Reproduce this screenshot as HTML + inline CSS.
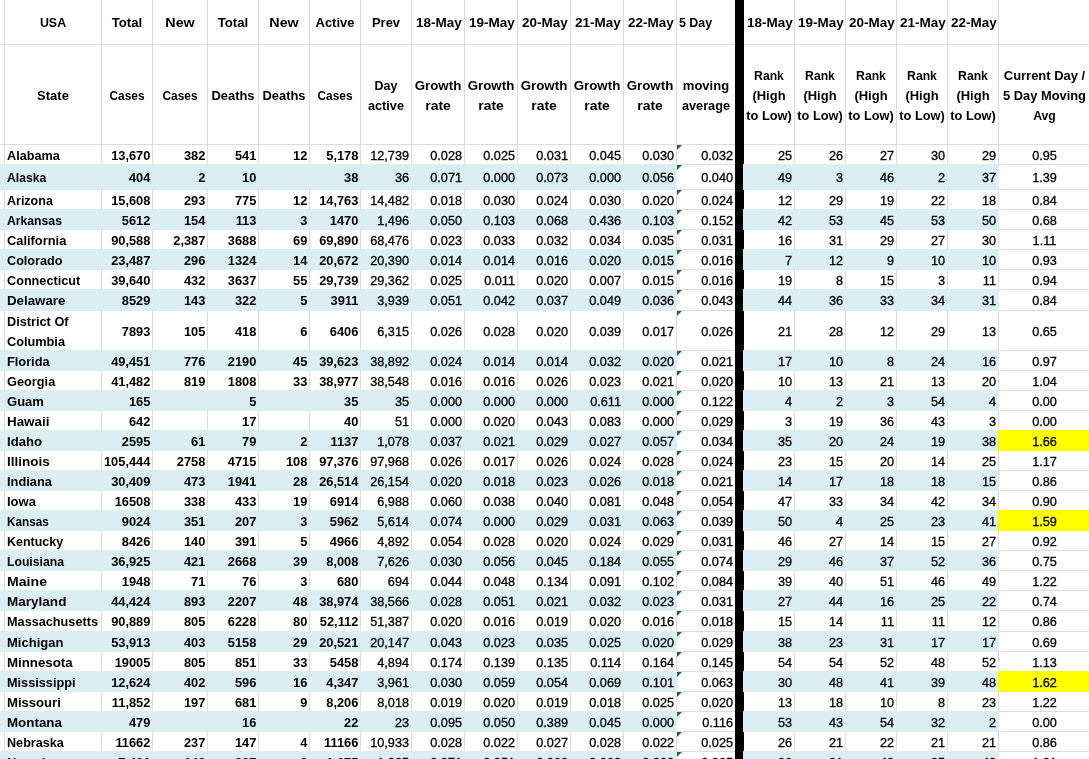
<!DOCTYPE html>
<html lang="en"><head><meta charset="utf-8"><title>USA COVID-19 growth rate by state</title>
<style>
html,body{margin:0;padding:0;background:#fff}
body{width:1089px;height:759px;overflow:hidden;position:relative;font-family:'Liberation Sans',sans-serif;font-size:13.33px;line-height:20px;color:#000}
#s{position:absolute;left:0;top:0;width:1089px;height:759px;overflow:hidden;background:#fff}
#s div{position:absolute;white-space:nowrap;height:20px}
#s .v{top:0;width:1px;height:759px;background:#dcdcdc}
#s .h{left:0;height:1px;width:1089px;background:#dcdcdc}
#s .b{background:#daeef3}
#s .y{background:#ffff00}
#s .k{background:#000}
#s .g{width:0;height:0;border-top:5px solid #187030;border-right:5px solid transparent}
.t{font-weight:bold}
.n{font-size:12.7px;-webkit-text-stroke:0.3px #000}
.r{text-align:right;transform-origin:100% 50%}
.c{text-align:center;transform-origin:50% 50%}
.l{text-align:left;transform-origin:0 50%}
.t.r{transform:scaleX(0.963)}
</style></head><body><div id="s">
<div class="v" style="left:4px"></div>
<div class="v" style="left:101px"></div>
<div class="v" style="left:152px"></div>
<div class="v" style="left:207px"></div>
<div class="v" style="left:258px"></div>
<div class="v" style="left:309px"></div>
<div class="v" style="left:360px"></div>
<div class="v" style="left:411px"></div>
<div class="v" style="left:464px"></div>
<div class="v" style="left:517px"></div>
<div class="v" style="left:570px"></div>
<div class="v" style="left:623px"></div>
<div class="v" style="left:676px"></div>
<div class="v" style="left:794px"></div>
<div class="v" style="left:845px"></div>
<div class="v" style="left:896px"></div>
<div class="v" style="left:947px"></div>
<div class="v" style="left:998px"></div>
<div class="h" style="top:44px"></div>
<div class="h" style="top:144px"></div>
<div class="h" style="top:164px"></div>
<div class="h" style="top:189px"></div>
<div class="h" style="top:209px"></div>
<div class="h" style="top:229px"></div>
<div class="h" style="top:249px"></div>
<div class="h" style="top:269px"></div>
<div class="h" style="top:289px"></div>
<div class="h" style="top:310px"></div>
<div class="h" style="top:350px"></div>
<div class="h" style="top:370px"></div>
<div class="h" style="top:390px"></div>
<div class="h" style="top:410px"></div>
<div class="h" style="top:430px"></div>
<div class="h" style="top:450px"></div>
<div class="h" style="top:470px"></div>
<div class="h" style="top:490px"></div>
<div class="h" style="top:510px"></div>
<div class="h" style="top:530px"></div>
<div class="h" style="top:550px"></div>
<div class="h" style="top:570px"></div>
<div class="h" style="top:590px"></div>
<div class="h" style="top:610px"></div>
<div class="h" style="top:631px"></div>
<div class="h" style="top:651px"></div>
<div class="h" style="top:671px"></div>
<div class="h" style="top:691px"></div>
<div class="h" style="top:711px"></div>
<div class="h" style="top:731px"></div>
<div class="h" style="top:751px"></div>
<div class="k" style="left:735px;top:0;width:9px;height:759px"></div>
<div class="g" style="left:677px;top:145px"></div>
<div class="b" style="left:0;top:164px;width:677px;height:26px"></div>
<div class="b" style="left:743px;top:164px;width:256px;height:26px"></div>
<div class="g" style="left:677px;top:165px"></div>
<div class="g" style="left:677px;top:190px"></div>
<div class="b" style="left:0;top:209px;width:677px;height:21px"></div>
<div class="b" style="left:743px;top:209px;width:256px;height:21px"></div>
<div class="g" style="left:677px;top:210px"></div>
<div class="g" style="left:677px;top:230px"></div>
<div class="b" style="left:0;top:249px;width:677px;height:21px"></div>
<div class="b" style="left:743px;top:249px;width:256px;height:21px"></div>
<div class="g" style="left:677px;top:250px"></div>
<div class="g" style="left:677px;top:270px"></div>
<div class="b" style="left:0;top:289px;width:677px;height:22px"></div>
<div class="b" style="left:743px;top:289px;width:256px;height:22px"></div>
<div class="g" style="left:677px;top:290px"></div>
<div class="g" style="left:677px;top:311px"></div>
<div class="b" style="left:0;top:350px;width:677px;height:21px"></div>
<div class="b" style="left:743px;top:350px;width:256px;height:21px"></div>
<div class="g" style="left:677px;top:351px"></div>
<div class="g" style="left:677px;top:371px"></div>
<div class="b" style="left:0;top:390px;width:677px;height:21px"></div>
<div class="b" style="left:743px;top:390px;width:256px;height:21px"></div>
<div class="g" style="left:677px;top:391px"></div>
<div class="g" style="left:677px;top:411px"></div>
<div class="b" style="left:0;top:430px;width:677px;height:21px"></div>
<div class="b" style="left:743px;top:430px;width:256px;height:21px"></div>
<div class="y" style="left:998px;top:430px;width:91px;height:21px"></div>
<div class="g" style="left:677px;top:431px"></div>
<div class="g" style="left:677px;top:451px"></div>
<div class="b" style="left:0;top:470px;width:677px;height:21px"></div>
<div class="b" style="left:743px;top:470px;width:256px;height:21px"></div>
<div class="g" style="left:677px;top:471px"></div>
<div class="g" style="left:677px;top:491px"></div>
<div class="b" style="left:0;top:510px;width:677px;height:21px"></div>
<div class="b" style="left:743px;top:510px;width:256px;height:21px"></div>
<div class="y" style="left:998px;top:510px;width:91px;height:21px"></div>
<div class="g" style="left:677px;top:511px"></div>
<div class="g" style="left:677px;top:531px"></div>
<div class="b" style="left:0;top:550px;width:677px;height:21px"></div>
<div class="b" style="left:743px;top:550px;width:256px;height:21px"></div>
<div class="g" style="left:677px;top:551px"></div>
<div class="g" style="left:677px;top:571px"></div>
<div class="b" style="left:0;top:590px;width:677px;height:21px"></div>
<div class="b" style="left:743px;top:590px;width:256px;height:21px"></div>
<div class="g" style="left:677px;top:591px"></div>
<div class="g" style="left:677px;top:611px"></div>
<div class="b" style="left:0;top:631px;width:677px;height:21px"></div>
<div class="b" style="left:743px;top:631px;width:256px;height:21px"></div>
<div class="g" style="left:677px;top:632px"></div>
<div class="g" style="left:677px;top:652px"></div>
<div class="b" style="left:0;top:671px;width:677px;height:21px"></div>
<div class="b" style="left:743px;top:671px;width:256px;height:21px"></div>
<div class="y" style="left:998px;top:671px;width:91px;height:21px"></div>
<div class="g" style="left:677px;top:672px"></div>
<div class="g" style="left:677px;top:692px"></div>
<div class="b" style="left:0;top:711px;width:677px;height:21px"></div>
<div class="b" style="left:743px;top:711px;width:256px;height:21px"></div>
<div class="g" style="left:677px;top:712px"></div>
<div class="g" style="left:677px;top:732px"></div>
<div class="b" style="left:0;top:751px;width:677px;height:21px"></div>
<div class="b" style="left:743px;top:751px;width:256px;height:21px"></div>
<div class="g" style="left:677px;top:752px"></div>
<div class="t c" style="left:5px;top:13px;width:96px;transform:scaleX(0.93)">USA</div>
<div class="t c" style="left:102px;top:13px;width:50px;transform:scaleX(0.992)">Total</div>
<div class="t c" style="left:153px;top:13px;width:54px;transform:scaleX(1.072)">New</div>
<div class="t c" style="left:208px;top:13px;width:50px;transform:scaleX(0.992)">Total</div>
<div class="t c" style="left:259px;top:13px;width:50px;transform:scaleX(1.072)">New</div>
<div class="t c" style="left:310px;top:13px;width:50px;transform:scaleX(0.974)">Active</div>
<div class="t c" style="left:361px;top:13px;width:50px;transform:scaleX(0.967)">Prev</div>
<div class="t c" style="left:413px;top:13px;width:52px;transform:scaleX(1.012)">18-May</div>
<div class="t c" style="left:466px;top:13px;width:52px;transform:scaleX(1.012)">19-May</div>
<div class="t c" style="left:519px;top:13px;width:52px;transform:scaleX(1.012)">20-May</div>
<div class="t c" style="left:572px;top:13px;width:52px;transform:scaleX(1.012)">21-May</div>
<div class="t c" style="left:625px;top:13px;width:52px;transform:scaleX(1.012)">22-May</div>
<div class="t l" style="left:679.3px;top:13px;width:55.7px;transform:scaleX(0.933)">5 Day</div>
<div class="t c" style="left:744.5px;top:13px;width:50px;transform:scaleX(1.012)">18-May</div>
<div class="t c" style="left:795.5px;top:13px;width:50px;transform:scaleX(1.012)">19-May</div>
<div class="t c" style="left:846.5px;top:13px;width:50px;transform:scaleX(1.012)">20-May</div>
<div class="t c" style="left:897.5px;top:13px;width:50px;transform:scaleX(1.012)">21-May</div>
<div class="t c" style="left:948.5px;top:13px;width:50px;transform:scaleX(1.012)">22-May</div>
<div class="t c" style="left:5px;top:85.5px;width:96px;transform:scaleX(0.975)">State</div>
<div class="t c" style="left:102px;top:85.5px;width:50px;transform:scaleX(0.894)">Cases</div>
<div class="t c" style="left:153px;top:85.5px;width:54px;transform:scaleX(0.894)">Cases</div>
<div class="t c" style="left:208px;top:85.5px;width:50px;transform:scaleX(0.969)">Deaths</div>
<div class="t c" style="left:259px;top:85.5px;width:50px;transform:scaleX(0.969)">Deaths</div>
<div class="t c" style="left:310px;top:85.5px;width:50px;transform:scaleX(0.894)">Cases</div>
<div class="t c" style="left:361px;top:75.5px;width:50px;transform:scaleX(0.934)">Day</div>
<div class="t c" style="left:361px;top:95.5px;width:50px;transform:scaleX(0.953)">active</div>
<div class="t c" style="left:412px;top:75.5px;width:52px;transform:scaleX(0.998)">Growth</div>
<div class="t c" style="left:412px;top:95.5px;width:52px;transform:scaleX(1.045)">rate</div>
<div class="t c" style="left:465px;top:75.5px;width:52px;transform:scaleX(0.998)">Growth</div>
<div class="t c" style="left:465px;top:95.5px;width:52px;transform:scaleX(1.045)">rate</div>
<div class="t c" style="left:518px;top:75.5px;width:52px;transform:scaleX(0.998)">Growth</div>
<div class="t c" style="left:518px;top:95.5px;width:52px;transform:scaleX(1.045)">rate</div>
<div class="t c" style="left:571px;top:75.5px;width:52px;transform:scaleX(0.998)">Growth</div>
<div class="t c" style="left:571px;top:95.5px;width:52px;transform:scaleX(1.045)">rate</div>
<div class="t c" style="left:624px;top:75.5px;width:52px;transform:scaleX(0.998)">Growth</div>
<div class="t c" style="left:624px;top:95.5px;width:52px;transform:scaleX(1.045)">rate</div>
<div class="t c" style="left:677px;top:75.5px;width:58px;transform:scaleX(0.978)">moving</div>
<div class="t c" style="left:677px;top:95.5px;width:58px;transform:scaleX(0.955)">average</div>
<div class="t c" style="left:744px;top:65.5px;width:50px;transform:scaleX(0.914)">Rank</div>
<div class="t c" style="left:744px;top:85.5px;width:50px;transform:scaleX(0.972)">(High</div>
<div class="t c" style="left:744px;top:105.5px;width:50px;transform:scaleX(0.962)">to Low)</div>
<div class="t c" style="left:795px;top:65.5px;width:50px;transform:scaleX(0.914)">Rank</div>
<div class="t c" style="left:795px;top:85.5px;width:50px;transform:scaleX(0.972)">(High</div>
<div class="t c" style="left:795px;top:105.5px;width:50px;transform:scaleX(0.962)">to Low)</div>
<div class="t c" style="left:846px;top:65.5px;width:50px;transform:scaleX(0.914)">Rank</div>
<div class="t c" style="left:846px;top:85.5px;width:50px;transform:scaleX(0.972)">(High</div>
<div class="t c" style="left:846px;top:105.5px;width:50px;transform:scaleX(0.962)">to Low)</div>
<div class="t c" style="left:897px;top:65.5px;width:50px;transform:scaleX(0.914)">Rank</div>
<div class="t c" style="left:897px;top:85.5px;width:50px;transform:scaleX(0.972)">(High</div>
<div class="t c" style="left:897px;top:105.5px;width:50px;transform:scaleX(0.962)">to Low)</div>
<div class="t c" style="left:948px;top:65.5px;width:50px;transform:scaleX(0.914)">Rank</div>
<div class="t c" style="left:948px;top:85.5px;width:50px;transform:scaleX(0.972)">(High</div>
<div class="t c" style="left:948px;top:105.5px;width:50px;transform:scaleX(0.962)">to Low)</div>
<div class="t c" style="left:999px;top:65.5px;width:91px;transform:scaleX(0.973)">Current Day /</div>
<div class="t c" style="left:999px;top:85.5px;width:91px;transform:scaleX(0.965)">5 Day Moving</div>
<div class="t c" style="left:999px;top:105.5px;width:91px;transform:scaleX(0.915)">Avg</div>
<div class="t l" style="left:7.2px;top:145.5px;width:93.8px;transform:scaleX(0.95)">Alabama</div>
<div class="t r" style="left:102px;top:145.5px;width:48.4px">13,670</div>
<div class="t r" style="left:153px;top:145.5px;width:52.4px">382</div>
<div class="t r" style="left:208px;top:145.5px;width:48.4px">541</div>
<div class="t r" style="left:259px;top:145.5px;width:48.4px">12</div>
<div class="t r" style="left:310px;top:145.5px;width:48.4px">5,178</div>
<div class="n r" style="left:361px;top:145.5px;width:48px">12,739</div>
<div class="n r" style="left:412px;top:145.5px;width:50px">0.028</div>
<div class="n r" style="left:465px;top:145.5px;width:50px">0.025</div>
<div class="n r" style="left:518px;top:145.5px;width:50px">0.031</div>
<div class="n r" style="left:571px;top:145.5px;width:50px">0.045</div>
<div class="n r" style="left:624px;top:145.5px;width:50px">0.030</div>
<div class="n r" style="left:677px;top:145.5px;width:56px">0.032</div>
<div class="n r" style="left:744px;top:145.5px;width:48px">25</div>
<div class="n r" style="left:795px;top:145.5px;width:48px">26</div>
<div class="n r" style="left:846px;top:145.5px;width:48px">27</div>
<div class="n r" style="left:897px;top:145.5px;width:48px">30</div>
<div class="n r" style="left:948px;top:145.5px;width:48px">29</div>
<div class="n c" style="left:999px;top:145.5px;width:91px">0.95</div>
<div class="t l" style="left:7.2px;top:168px;width:93.8px;transform:scaleX(0.912)">Alaska</div>
<div class="t r" style="left:102px;top:168px;width:48.4px">404</div>
<div class="t r" style="left:153px;top:168px;width:52.4px">2</div>
<div class="t r" style="left:208px;top:168px;width:48.4px">10</div>
<div class="t r" style="left:310px;top:168px;width:48.4px">38</div>
<div class="n r" style="left:361px;top:168px;width:48px">36</div>
<div class="n r" style="left:412px;top:168px;width:50px">0.071</div>
<div class="n r" style="left:465px;top:168px;width:50px">0.000</div>
<div class="n r" style="left:518px;top:168px;width:50px">0.073</div>
<div class="n r" style="left:571px;top:168px;width:50px">0.000</div>
<div class="n r" style="left:624px;top:168px;width:50px">0.056</div>
<div class="n r" style="left:677px;top:168px;width:56px">0.040</div>
<div class="n r" style="left:744px;top:168px;width:48px">49</div>
<div class="n r" style="left:795px;top:168px;width:48px">3</div>
<div class="n r" style="left:846px;top:168px;width:48px">46</div>
<div class="n r" style="left:897px;top:168px;width:48px">2</div>
<div class="n r" style="left:948px;top:168px;width:48px">37</div>
<div class="n c" style="left:999px;top:168px;width:91px">1.39</div>
<div class="t l" style="left:7.2px;top:190.5px;width:93.8px;transform:scaleX(0.938)">Arizona</div>
<div class="t r" style="left:102px;top:190.5px;width:48.4px">15,608</div>
<div class="t r" style="left:153px;top:190.5px;width:52.4px">293</div>
<div class="t r" style="left:208px;top:190.5px;width:48.4px">775</div>
<div class="t r" style="left:259px;top:190.5px;width:48.4px">12</div>
<div class="t r" style="left:310px;top:190.5px;width:48.4px">14,763</div>
<div class="n r" style="left:361px;top:190.5px;width:48px">14,482</div>
<div class="n r" style="left:412px;top:190.5px;width:50px">0.018</div>
<div class="n r" style="left:465px;top:190.5px;width:50px">0.030</div>
<div class="n r" style="left:518px;top:190.5px;width:50px">0.024</div>
<div class="n r" style="left:571px;top:190.5px;width:50px">0.030</div>
<div class="n r" style="left:624px;top:190.5px;width:50px">0.020</div>
<div class="n r" style="left:677px;top:190.5px;width:56px">0.024</div>
<div class="n r" style="left:744px;top:190.5px;width:48px">12</div>
<div class="n r" style="left:795px;top:190.5px;width:48px">29</div>
<div class="n r" style="left:846px;top:190.5px;width:48px">19</div>
<div class="n r" style="left:897px;top:190.5px;width:48px">22</div>
<div class="n r" style="left:948px;top:190.5px;width:48px">18</div>
<div class="n c" style="left:999px;top:190.5px;width:91px">0.84</div>
<div class="t l" style="left:7.2px;top:210.5px;width:93.8px;transform:scaleX(0.915)">Arkansas</div>
<div class="t r" style="left:102px;top:210.5px;width:48.4px">5612</div>
<div class="t r" style="left:153px;top:210.5px;width:52.4px">154</div>
<div class="t r" style="left:208px;top:210.5px;width:48.4px">113</div>
<div class="t r" style="left:259px;top:210.5px;width:48.4px">3</div>
<div class="t r" style="left:310px;top:210.5px;width:48.4px">1470</div>
<div class="n r" style="left:361px;top:210.5px;width:48px">1,496</div>
<div class="n r" style="left:412px;top:210.5px;width:50px">0.050</div>
<div class="n r" style="left:465px;top:210.5px;width:50px">0.103</div>
<div class="n r" style="left:518px;top:210.5px;width:50px">0.068</div>
<div class="n r" style="left:571px;top:210.5px;width:50px">0.436</div>
<div class="n r" style="left:624px;top:210.5px;width:50px">0.103</div>
<div class="n r" style="left:677px;top:210.5px;width:56px">0.152</div>
<div class="n r" style="left:744px;top:210.5px;width:48px">42</div>
<div class="n r" style="left:795px;top:210.5px;width:48px">53</div>
<div class="n r" style="left:846px;top:210.5px;width:48px">45</div>
<div class="n r" style="left:897px;top:210.5px;width:48px">53</div>
<div class="n r" style="left:948px;top:210.5px;width:48px">50</div>
<div class="n c" style="left:999px;top:210.5px;width:91px">0.68</div>
<div class="t l" style="left:7.2px;top:230.5px;width:93.8px;transform:scaleX(0.965)">California</div>
<div class="t r" style="left:102px;top:230.5px;width:48.4px">90,588</div>
<div class="t r" style="left:153px;top:230.5px;width:52.4px">2,387</div>
<div class="t r" style="left:208px;top:230.5px;width:48.4px">3688</div>
<div class="t r" style="left:259px;top:230.5px;width:48.4px">69</div>
<div class="t r" style="left:310px;top:230.5px;width:48.4px">69,890</div>
<div class="n r" style="left:361px;top:230.5px;width:48px">68,476</div>
<div class="n r" style="left:412px;top:230.5px;width:50px">0.023</div>
<div class="n r" style="left:465px;top:230.5px;width:50px">0.033</div>
<div class="n r" style="left:518px;top:230.5px;width:50px">0.032</div>
<div class="n r" style="left:571px;top:230.5px;width:50px">0.034</div>
<div class="n r" style="left:624px;top:230.5px;width:50px">0.035</div>
<div class="n r" style="left:677px;top:230.5px;width:56px">0.031</div>
<div class="n r" style="left:744px;top:230.5px;width:48px">16</div>
<div class="n r" style="left:795px;top:230.5px;width:48px">31</div>
<div class="n r" style="left:846px;top:230.5px;width:48px">29</div>
<div class="n r" style="left:897px;top:230.5px;width:48px">27</div>
<div class="n r" style="left:948px;top:230.5px;width:48px">30</div>
<div class="n c" style="left:999px;top:230.5px;width:91px">1.11</div>
<div class="t l" style="left:7.2px;top:250.5px;width:93.8px;transform:scaleX(0.949)">Colorado</div>
<div class="t r" style="left:102px;top:250.5px;width:48.4px">23,487</div>
<div class="t r" style="left:153px;top:250.5px;width:52.4px">296</div>
<div class="t r" style="left:208px;top:250.5px;width:48.4px">1324</div>
<div class="t r" style="left:259px;top:250.5px;width:48.4px">14</div>
<div class="t r" style="left:310px;top:250.5px;width:48.4px">20,672</div>
<div class="n r" style="left:361px;top:250.5px;width:48px">20,390</div>
<div class="n r" style="left:412px;top:250.5px;width:50px">0.014</div>
<div class="n r" style="left:465px;top:250.5px;width:50px">0.014</div>
<div class="n r" style="left:518px;top:250.5px;width:50px">0.016</div>
<div class="n r" style="left:571px;top:250.5px;width:50px">0.020</div>
<div class="n r" style="left:624px;top:250.5px;width:50px">0.015</div>
<div class="n r" style="left:677px;top:250.5px;width:56px">0.016</div>
<div class="n r" style="left:744px;top:250.5px;width:48px">7</div>
<div class="n r" style="left:795px;top:250.5px;width:48px">12</div>
<div class="n r" style="left:846px;top:250.5px;width:48px">9</div>
<div class="n r" style="left:897px;top:250.5px;width:48px">10</div>
<div class="n r" style="left:948px;top:250.5px;width:48px">10</div>
<div class="n c" style="left:999px;top:250.5px;width:91px">0.93</div>
<div class="t l" style="left:7.2px;top:270.5px;width:93.8px;transform:scaleX(0.95)">Connecticut</div>
<div class="t r" style="left:102px;top:270.5px;width:48.4px">39,640</div>
<div class="t r" style="left:153px;top:270.5px;width:52.4px">432</div>
<div class="t r" style="left:208px;top:270.5px;width:48.4px">3637</div>
<div class="t r" style="left:259px;top:270.5px;width:48.4px">55</div>
<div class="t r" style="left:310px;top:270.5px;width:48.4px">29,739</div>
<div class="n r" style="left:361px;top:270.5px;width:48px">29,362</div>
<div class="n r" style="left:412px;top:270.5px;width:50px">0.025</div>
<div class="n r" style="left:465px;top:270.5px;width:50px">0.011</div>
<div class="n r" style="left:518px;top:270.5px;width:50px">0.020</div>
<div class="n r" style="left:571px;top:270.5px;width:50px">0.007</div>
<div class="n r" style="left:624px;top:270.5px;width:50px">0.015</div>
<div class="n r" style="left:677px;top:270.5px;width:56px">0.016</div>
<div class="n r" style="left:744px;top:270.5px;width:48px">19</div>
<div class="n r" style="left:795px;top:270.5px;width:48px">8</div>
<div class="n r" style="left:846px;top:270.5px;width:48px">15</div>
<div class="n r" style="left:897px;top:270.5px;width:48px">3</div>
<div class="n r" style="left:948px;top:270.5px;width:48px">11</div>
<div class="n c" style="left:999px;top:270.5px;width:91px">0.94</div>
<div class="t l" style="left:7.2px;top:291px;width:93.8px;transform:scaleX(0.997)">Delaware</div>
<div class="t r" style="left:102px;top:291px;width:48.4px">8529</div>
<div class="t r" style="left:153px;top:291px;width:52.4px">143</div>
<div class="t r" style="left:208px;top:291px;width:48.4px">322</div>
<div class="t r" style="left:259px;top:291px;width:48.4px">5</div>
<div class="t r" style="left:310px;top:291px;width:48.4px">3911</div>
<div class="n r" style="left:361px;top:291px;width:48px">3,939</div>
<div class="n r" style="left:412px;top:291px;width:50px">0.051</div>
<div class="n r" style="left:465px;top:291px;width:50px">0.042</div>
<div class="n r" style="left:518px;top:291px;width:50px">0.037</div>
<div class="n r" style="left:571px;top:291px;width:50px">0.049</div>
<div class="n r" style="left:624px;top:291px;width:50px">0.036</div>
<div class="n r" style="left:677px;top:291px;width:56px">0.043</div>
<div class="n r" style="left:744px;top:291px;width:48px">44</div>
<div class="n r" style="left:795px;top:291px;width:48px">36</div>
<div class="n r" style="left:846px;top:291px;width:48px">33</div>
<div class="n r" style="left:897px;top:291px;width:48px">34</div>
<div class="n r" style="left:948px;top:291px;width:48px">31</div>
<div class="n c" style="left:999px;top:291px;width:91px">0.84</div>
<div class="t l" style="left:7.2px;top:311.5px;width:93.8px;transform:scaleX(0.955)">District Of</div>
<div class="t l" style="left:7.2px;top:331.5px;width:93.8px;transform:scaleX(0.955)">Columbia</div>
<div class="t r" style="left:102px;top:321.5px;width:48.4px">7893</div>
<div class="t r" style="left:153px;top:321.5px;width:52.4px">105</div>
<div class="t r" style="left:208px;top:321.5px;width:48.4px">418</div>
<div class="t r" style="left:259px;top:321.5px;width:48.4px">6</div>
<div class="t r" style="left:310px;top:321.5px;width:48.4px">6406</div>
<div class="n r" style="left:361px;top:321.5px;width:48px">6,315</div>
<div class="n r" style="left:412px;top:321.5px;width:50px">0.026</div>
<div class="n r" style="left:465px;top:321.5px;width:50px">0.028</div>
<div class="n r" style="left:518px;top:321.5px;width:50px">0.020</div>
<div class="n r" style="left:571px;top:321.5px;width:50px">0.039</div>
<div class="n r" style="left:624px;top:321.5px;width:50px">0.017</div>
<div class="n r" style="left:677px;top:321.5px;width:56px">0.026</div>
<div class="n r" style="left:744px;top:321.5px;width:48px">21</div>
<div class="n r" style="left:795px;top:321.5px;width:48px">28</div>
<div class="n r" style="left:846px;top:321.5px;width:48px">12</div>
<div class="n r" style="left:897px;top:321.5px;width:48px">29</div>
<div class="n r" style="left:948px;top:321.5px;width:48px">13</div>
<div class="n c" style="left:999px;top:321.5px;width:91px">0.65</div>
<div class="t l" style="left:7.2px;top:351.5px;width:93.8px;transform:scaleX(0.957)">Florida</div>
<div class="t r" style="left:102px;top:351.5px;width:48.4px">49,451</div>
<div class="t r" style="left:153px;top:351.5px;width:52.4px">776</div>
<div class="t r" style="left:208px;top:351.5px;width:48.4px">2190</div>
<div class="t r" style="left:259px;top:351.5px;width:48.4px">45</div>
<div class="t r" style="left:310px;top:351.5px;width:48.4px">39,623</div>
<div class="n r" style="left:361px;top:351.5px;width:48px">38,892</div>
<div class="n r" style="left:412px;top:351.5px;width:50px">0.024</div>
<div class="n r" style="left:465px;top:351.5px;width:50px">0.014</div>
<div class="n r" style="left:518px;top:351.5px;width:50px">0.014</div>
<div class="n r" style="left:571px;top:351.5px;width:50px">0.032</div>
<div class="n r" style="left:624px;top:351.5px;width:50px">0.020</div>
<div class="n r" style="left:677px;top:351.5px;width:56px">0.021</div>
<div class="n r" style="left:744px;top:351.5px;width:48px">17</div>
<div class="n r" style="left:795px;top:351.5px;width:48px">10</div>
<div class="n r" style="left:846px;top:351.5px;width:48px">8</div>
<div class="n r" style="left:897px;top:351.5px;width:48px">24</div>
<div class="n r" style="left:948px;top:351.5px;width:48px">16</div>
<div class="n c" style="left:999px;top:351.5px;width:91px">0.97</div>
<div class="t l" style="left:7.2px;top:371.5px;width:93.8px;transform:scaleX(0.958)">Georgia</div>
<div class="t r" style="left:102px;top:371.5px;width:48.4px">41,482</div>
<div class="t r" style="left:153px;top:371.5px;width:52.4px">819</div>
<div class="t r" style="left:208px;top:371.5px;width:48.4px">1808</div>
<div class="t r" style="left:259px;top:371.5px;width:48.4px">33</div>
<div class="t r" style="left:310px;top:371.5px;width:48.4px">38,977</div>
<div class="n r" style="left:361px;top:371.5px;width:48px">38,548</div>
<div class="n r" style="left:412px;top:371.5px;width:50px">0.016</div>
<div class="n r" style="left:465px;top:371.5px;width:50px">0.016</div>
<div class="n r" style="left:518px;top:371.5px;width:50px">0.026</div>
<div class="n r" style="left:571px;top:371.5px;width:50px">0.023</div>
<div class="n r" style="left:624px;top:371.5px;width:50px">0.021</div>
<div class="n r" style="left:677px;top:371.5px;width:56px">0.020</div>
<div class="n r" style="left:744px;top:371.5px;width:48px">10</div>
<div class="n r" style="left:795px;top:371.5px;width:48px">13</div>
<div class="n r" style="left:846px;top:371.5px;width:48px">21</div>
<div class="n r" style="left:897px;top:371.5px;width:48px">13</div>
<div class="n r" style="left:948px;top:371.5px;width:48px">20</div>
<div class="n c" style="left:999px;top:371.5px;width:91px">1.04</div>
<div class="t l" style="left:7.2px;top:391.5px;width:93.8px;transform:scaleX(0.977)">Guam</div>
<div class="t r" style="left:102px;top:391.5px;width:48.4px">165</div>
<div class="t r" style="left:208px;top:391.5px;width:48.4px">5</div>
<div class="t r" style="left:310px;top:391.5px;width:48.4px">35</div>
<div class="n r" style="left:361px;top:391.5px;width:48px">35</div>
<div class="n r" style="left:412px;top:391.5px;width:50px">0.000</div>
<div class="n r" style="left:465px;top:391.5px;width:50px">0.000</div>
<div class="n r" style="left:518px;top:391.5px;width:50px">0.000</div>
<div class="n r" style="left:571px;top:391.5px;width:50px">0.611</div>
<div class="n r" style="left:624px;top:391.5px;width:50px">0.000</div>
<div class="n r" style="left:677px;top:391.5px;width:56px">0.122</div>
<div class="n r" style="left:744px;top:391.5px;width:48px">4</div>
<div class="n r" style="left:795px;top:391.5px;width:48px">2</div>
<div class="n r" style="left:846px;top:391.5px;width:48px">3</div>
<div class="n r" style="left:897px;top:391.5px;width:48px">54</div>
<div class="n r" style="left:948px;top:391.5px;width:48px">4</div>
<div class="n c" style="left:999px;top:391.5px;width:91px">0.00</div>
<div class="t l" style="left:7.2px;top:411.5px;width:93.8px;transform:scaleX(1.005)">Hawaii</div>
<div class="t r" style="left:102px;top:411.5px;width:48.4px">642</div>
<div class="t r" style="left:208px;top:411.5px;width:48.4px">17</div>
<div class="t r" style="left:310px;top:411.5px;width:48.4px">40</div>
<div class="n r" style="left:361px;top:411.5px;width:48px">51</div>
<div class="n r" style="left:412px;top:411.5px;width:50px">0.000</div>
<div class="n r" style="left:465px;top:411.5px;width:50px">0.020</div>
<div class="n r" style="left:518px;top:411.5px;width:50px">0.043</div>
<div class="n r" style="left:571px;top:411.5px;width:50px">0.083</div>
<div class="n r" style="left:624px;top:411.5px;width:50px">0.000</div>
<div class="n r" style="left:677px;top:411.5px;width:56px">0.029</div>
<div class="n r" style="left:744px;top:411.5px;width:48px">3</div>
<div class="n r" style="left:795px;top:411.5px;width:48px">19</div>
<div class="n r" style="left:846px;top:411.5px;width:48px">36</div>
<div class="n r" style="left:897px;top:411.5px;width:48px">43</div>
<div class="n r" style="left:948px;top:411.5px;width:48px">3</div>
<div class="n c" style="left:999px;top:411.5px;width:91px">0.00</div>
<div class="t l" style="left:7.2px;top:431.5px;width:93.8px;transform:scaleX(0.982)">Idaho</div>
<div class="t r" style="left:102px;top:431.5px;width:48.4px">2595</div>
<div class="t r" style="left:153px;top:431.5px;width:52.4px">61</div>
<div class="t r" style="left:208px;top:431.5px;width:48.4px">79</div>
<div class="t r" style="left:259px;top:431.5px;width:48.4px">2</div>
<div class="t r" style="left:310px;top:431.5px;width:48.4px">1137</div>
<div class="n r" style="left:361px;top:431.5px;width:48px">1,078</div>
<div class="n r" style="left:412px;top:431.5px;width:50px">0.037</div>
<div class="n r" style="left:465px;top:431.5px;width:50px">0.021</div>
<div class="n r" style="left:518px;top:431.5px;width:50px">0.029</div>
<div class="n r" style="left:571px;top:431.5px;width:50px">0.027</div>
<div class="n r" style="left:624px;top:431.5px;width:50px">0.057</div>
<div class="n r" style="left:677px;top:431.5px;width:56px">0.034</div>
<div class="n r" style="left:744px;top:431.5px;width:48px">35</div>
<div class="n r" style="left:795px;top:431.5px;width:48px">20</div>
<div class="n r" style="left:846px;top:431.5px;width:48px">24</div>
<div class="n r" style="left:897px;top:431.5px;width:48px">19</div>
<div class="n r" style="left:948px;top:431.5px;width:48px">38</div>
<div class="n c" style="left:999px;top:431.5px;width:91px">1.66</div>
<div class="t l" style="left:7.2px;top:451.5px;width:93.8px;transform:scaleX(1.013)">Illinois</div>
<div class="t r" style="left:102px;top:451.5px;width:48.4px">105,444</div>
<div class="t r" style="left:153px;top:451.5px;width:52.4px">2758</div>
<div class="t r" style="left:208px;top:451.5px;width:48.4px">4715</div>
<div class="t r" style="left:259px;top:451.5px;width:48.4px">108</div>
<div class="t r" style="left:310px;top:451.5px;width:48.4px">97,376</div>
<div class="n r" style="left:361px;top:451.5px;width:48px">97,968</div>
<div class="n r" style="left:412px;top:451.5px;width:50px">0.026</div>
<div class="n r" style="left:465px;top:451.5px;width:50px">0.017</div>
<div class="n r" style="left:518px;top:451.5px;width:50px">0.026</div>
<div class="n r" style="left:571px;top:451.5px;width:50px">0.024</div>
<div class="n r" style="left:624px;top:451.5px;width:50px">0.028</div>
<div class="n r" style="left:677px;top:451.5px;width:56px">0.024</div>
<div class="n r" style="left:744px;top:451.5px;width:48px">23</div>
<div class="n r" style="left:795px;top:451.5px;width:48px">15</div>
<div class="n r" style="left:846px;top:451.5px;width:48px">20</div>
<div class="n r" style="left:897px;top:451.5px;width:48px">14</div>
<div class="n r" style="left:948px;top:451.5px;width:48px">25</div>
<div class="n c" style="left:999px;top:451.5px;width:91px">1.17</div>
<div class="t l" style="left:7.2px;top:471.5px;width:93.8px;transform:scaleX(0.963)">Indiana</div>
<div class="t r" style="left:102px;top:471.5px;width:48.4px">30,409</div>
<div class="t r" style="left:153px;top:471.5px;width:52.4px">473</div>
<div class="t r" style="left:208px;top:471.5px;width:48.4px">1941</div>
<div class="t r" style="left:259px;top:471.5px;width:48.4px">28</div>
<div class="t r" style="left:310px;top:471.5px;width:48.4px">26,514</div>
<div class="n r" style="left:361px;top:471.5px;width:48px">26,154</div>
<div class="n r" style="left:412px;top:471.5px;width:50px">0.020</div>
<div class="n r" style="left:465px;top:471.5px;width:50px">0.018</div>
<div class="n r" style="left:518px;top:471.5px;width:50px">0.023</div>
<div class="n r" style="left:571px;top:471.5px;width:50px">0.026</div>
<div class="n r" style="left:624px;top:471.5px;width:50px">0.018</div>
<div class="n r" style="left:677px;top:471.5px;width:56px">0.021</div>
<div class="n r" style="left:744px;top:471.5px;width:48px">14</div>
<div class="n r" style="left:795px;top:471.5px;width:48px">17</div>
<div class="n r" style="left:846px;top:471.5px;width:48px">18</div>
<div class="n r" style="left:897px;top:471.5px;width:48px">18</div>
<div class="n r" style="left:948px;top:471.5px;width:48px">15</div>
<div class="n c" style="left:999px;top:471.5px;width:91px">0.86</div>
<div class="t l" style="left:7.2px;top:491.5px;width:93.8px;transform:scaleX(0.978)">Iowa</div>
<div class="t r" style="left:102px;top:491.5px;width:48.4px">16508</div>
<div class="t r" style="left:153px;top:491.5px;width:52.4px">338</div>
<div class="t r" style="left:208px;top:491.5px;width:48.4px">433</div>
<div class="t r" style="left:259px;top:491.5px;width:48.4px">19</div>
<div class="t r" style="left:310px;top:491.5px;width:48.4px">6914</div>
<div class="n r" style="left:361px;top:491.5px;width:48px">6,988</div>
<div class="n r" style="left:412px;top:491.5px;width:50px">0.060</div>
<div class="n r" style="left:465px;top:491.5px;width:50px">0.038</div>
<div class="n r" style="left:518px;top:491.5px;width:50px">0.040</div>
<div class="n r" style="left:571px;top:491.5px;width:50px">0.081</div>
<div class="n r" style="left:624px;top:491.5px;width:50px">0.048</div>
<div class="n r" style="left:677px;top:491.5px;width:56px">0.054</div>
<div class="n r" style="left:744px;top:491.5px;width:48px">47</div>
<div class="n r" style="left:795px;top:491.5px;width:48px">33</div>
<div class="n r" style="left:846px;top:491.5px;width:48px">34</div>
<div class="n r" style="left:897px;top:491.5px;width:48px">42</div>
<div class="n r" style="left:948px;top:491.5px;width:48px">34</div>
<div class="n c" style="left:999px;top:491.5px;width:91px">0.90</div>
<div class="t l" style="left:7.2px;top:511.5px;width:93.8px;transform:scaleX(0.88)">Kansas</div>
<div class="t r" style="left:102px;top:511.5px;width:48.4px">9024</div>
<div class="t r" style="left:153px;top:511.5px;width:52.4px">351</div>
<div class="t r" style="left:208px;top:511.5px;width:48.4px">207</div>
<div class="t r" style="left:259px;top:511.5px;width:48.4px">3</div>
<div class="t r" style="left:310px;top:511.5px;width:48.4px">5962</div>
<div class="n r" style="left:361px;top:511.5px;width:48px">5,614</div>
<div class="n r" style="left:412px;top:511.5px;width:50px">0.074</div>
<div class="n r" style="left:465px;top:511.5px;width:50px">0.000</div>
<div class="n r" style="left:518px;top:511.5px;width:50px">0.029</div>
<div class="n r" style="left:571px;top:511.5px;width:50px">0.031</div>
<div class="n r" style="left:624px;top:511.5px;width:50px">0.063</div>
<div class="n r" style="left:677px;top:511.5px;width:56px">0.039</div>
<div class="n r" style="left:744px;top:511.5px;width:48px">50</div>
<div class="n r" style="left:795px;top:511.5px;width:48px">4</div>
<div class="n r" style="left:846px;top:511.5px;width:48px">25</div>
<div class="n r" style="left:897px;top:511.5px;width:48px">23</div>
<div class="n r" style="left:948px;top:511.5px;width:48px">41</div>
<div class="n c" style="left:999px;top:511.5px;width:91px">1.59</div>
<div class="t l" style="left:7.2px;top:531.5px;width:93.8px;transform:scaleX(0.935)">Kentucky</div>
<div class="t r" style="left:102px;top:531.5px;width:48.4px">8426</div>
<div class="t r" style="left:153px;top:531.5px;width:52.4px">140</div>
<div class="t r" style="left:208px;top:531.5px;width:48.4px">391</div>
<div class="t r" style="left:259px;top:531.5px;width:48.4px">5</div>
<div class="t r" style="left:310px;top:531.5px;width:48.4px">4966</div>
<div class="n r" style="left:361px;top:531.5px;width:48px">4,892</div>
<div class="n r" style="left:412px;top:531.5px;width:50px">0.054</div>
<div class="n r" style="left:465px;top:531.5px;width:50px">0.028</div>
<div class="n r" style="left:518px;top:531.5px;width:50px">0.020</div>
<div class="n r" style="left:571px;top:531.5px;width:50px">0.024</div>
<div class="n r" style="left:624px;top:531.5px;width:50px">0.029</div>
<div class="n r" style="left:677px;top:531.5px;width:56px">0.031</div>
<div class="n r" style="left:744px;top:531.5px;width:48px">46</div>
<div class="n r" style="left:795px;top:531.5px;width:48px">27</div>
<div class="n r" style="left:846px;top:531.5px;width:48px">14</div>
<div class="n r" style="left:897px;top:531.5px;width:48px">15</div>
<div class="n r" style="left:948px;top:531.5px;width:48px">27</div>
<div class="n c" style="left:999px;top:531.5px;width:91px">0.92</div>
<div class="t l" style="left:7.2px;top:551.5px;width:93.8px;transform:scaleX(0.916)">Louisiana</div>
<div class="t r" style="left:102px;top:551.5px;width:48.4px">36,925</div>
<div class="t r" style="left:153px;top:551.5px;width:52.4px">421</div>
<div class="t r" style="left:208px;top:551.5px;width:48.4px">2668</div>
<div class="t r" style="left:259px;top:551.5px;width:48.4px">39</div>
<div class="t r" style="left:310px;top:551.5px;width:48.4px">8,008</div>
<div class="n r" style="left:361px;top:551.5px;width:48px">7,626</div>
<div class="n r" style="left:412px;top:551.5px;width:50px">0.030</div>
<div class="n r" style="left:465px;top:551.5px;width:50px">0.056</div>
<div class="n r" style="left:518px;top:551.5px;width:50px">0.045</div>
<div class="n r" style="left:571px;top:551.5px;width:50px">0.184</div>
<div class="n r" style="left:624px;top:551.5px;width:50px">0.055</div>
<div class="n r" style="left:677px;top:551.5px;width:56px">0.074</div>
<div class="n r" style="left:744px;top:551.5px;width:48px">29</div>
<div class="n r" style="left:795px;top:551.5px;width:48px">46</div>
<div class="n r" style="left:846px;top:551.5px;width:48px">37</div>
<div class="n r" style="left:897px;top:551.5px;width:48px">52</div>
<div class="n r" style="left:948px;top:551.5px;width:48px">36</div>
<div class="n c" style="left:999px;top:551.5px;width:91px">0.75</div>
<div class="t l" style="left:7.2px;top:571.5px;width:93.8px;transform:scaleX(1.059)">Maine</div>
<div class="t r" style="left:102px;top:571.5px;width:48.4px">1948</div>
<div class="t r" style="left:153px;top:571.5px;width:52.4px">71</div>
<div class="t r" style="left:208px;top:571.5px;width:48.4px">76</div>
<div class="t r" style="left:259px;top:571.5px;width:48.4px">3</div>
<div class="t r" style="left:310px;top:571.5px;width:48.4px">680</div>
<div class="n r" style="left:361px;top:571.5px;width:48px">694</div>
<div class="n r" style="left:412px;top:571.5px;width:50px">0.044</div>
<div class="n r" style="left:465px;top:571.5px;width:50px">0.048</div>
<div class="n r" style="left:518px;top:571.5px;width:50px">0.134</div>
<div class="n r" style="left:571px;top:571.5px;width:50px">0.091</div>
<div class="n r" style="left:624px;top:571.5px;width:50px">0.102</div>
<div class="n r" style="left:677px;top:571.5px;width:56px">0.084</div>
<div class="n r" style="left:744px;top:571.5px;width:48px">39</div>
<div class="n r" style="left:795px;top:571.5px;width:48px">40</div>
<div class="n r" style="left:846px;top:571.5px;width:48px">51</div>
<div class="n r" style="left:897px;top:571.5px;width:48px">46</div>
<div class="n r" style="left:948px;top:571.5px;width:48px">49</div>
<div class="n c" style="left:999px;top:571.5px;width:91px">1.22</div>
<div class="t l" style="left:7.2px;top:591.5px;width:93.8px;transform:scaleX(1.015)">Maryland</div>
<div class="t r" style="left:102px;top:591.5px;width:48.4px">44,424</div>
<div class="t r" style="left:153px;top:591.5px;width:52.4px">893</div>
<div class="t r" style="left:208px;top:591.5px;width:48.4px">2207</div>
<div class="t r" style="left:259px;top:591.5px;width:48.4px">48</div>
<div class="t r" style="left:310px;top:591.5px;width:48.4px">38,974</div>
<div class="n r" style="left:361px;top:591.5px;width:48px">38,566</div>
<div class="n r" style="left:412px;top:591.5px;width:50px">0.028</div>
<div class="n r" style="left:465px;top:591.5px;width:50px">0.051</div>
<div class="n r" style="left:518px;top:591.5px;width:50px">0.021</div>
<div class="n r" style="left:571px;top:591.5px;width:50px">0.032</div>
<div class="n r" style="left:624px;top:591.5px;width:50px">0.023</div>
<div class="n r" style="left:677px;top:591.5px;width:56px">0.031</div>
<div class="n r" style="left:744px;top:591.5px;width:48px">27</div>
<div class="n r" style="left:795px;top:591.5px;width:48px">44</div>
<div class="n r" style="left:846px;top:591.5px;width:48px">16</div>
<div class="n r" style="left:897px;top:591.5px;width:48px">25</div>
<div class="n r" style="left:948px;top:591.5px;width:48px">22</div>
<div class="n c" style="left:999px;top:591.5px;width:91px">0.74</div>
<div class="t l" style="left:7.2px;top:612px;width:93.8px;transform:scaleX(0.952)">Massachusetts</div>
<div class="t r" style="left:102px;top:612px;width:48.4px">90,889</div>
<div class="t r" style="left:153px;top:612px;width:52.4px">805</div>
<div class="t r" style="left:208px;top:612px;width:48.4px">6228</div>
<div class="t r" style="left:259px;top:612px;width:48.4px">80</div>
<div class="t r" style="left:310px;top:612px;width:48.4px">52,112</div>
<div class="n r" style="left:361px;top:612px;width:48px">51,387</div>
<div class="n r" style="left:412px;top:612px;width:50px">0.020</div>
<div class="n r" style="left:465px;top:612px;width:50px">0.016</div>
<div class="n r" style="left:518px;top:612px;width:50px">0.019</div>
<div class="n r" style="left:571px;top:612px;width:50px">0.020</div>
<div class="n r" style="left:624px;top:612px;width:50px">0.016</div>
<div class="n r" style="left:677px;top:612px;width:56px">0.018</div>
<div class="n r" style="left:744px;top:612px;width:48px">15</div>
<div class="n r" style="left:795px;top:612px;width:48px">14</div>
<div class="n r" style="left:846px;top:612px;width:48px">11</div>
<div class="n r" style="left:897px;top:612px;width:48px">11</div>
<div class="n r" style="left:948px;top:612px;width:48px">12</div>
<div class="n c" style="left:999px;top:612px;width:91px">0.86</div>
<div class="t l" style="left:7.2px;top:632.5px;width:93.8px;transform:scaleX(0.978)">Michigan</div>
<div class="t r" style="left:102px;top:632.5px;width:48.4px">53,913</div>
<div class="t r" style="left:153px;top:632.5px;width:52.4px">403</div>
<div class="t r" style="left:208px;top:632.5px;width:48.4px">5158</div>
<div class="t r" style="left:259px;top:632.5px;width:48.4px">29</div>
<div class="t r" style="left:310px;top:632.5px;width:48.4px">20,521</div>
<div class="n r" style="left:361px;top:632.5px;width:48px">20,147</div>
<div class="n r" style="left:412px;top:632.5px;width:50px">0.043</div>
<div class="n r" style="left:465px;top:632.5px;width:50px">0.023</div>
<div class="n r" style="left:518px;top:632.5px;width:50px">0.035</div>
<div class="n r" style="left:571px;top:632.5px;width:50px">0.025</div>
<div class="n r" style="left:624px;top:632.5px;width:50px">0.020</div>
<div class="n r" style="left:677px;top:632.5px;width:56px">0.029</div>
<div class="n r" style="left:744px;top:632.5px;width:48px">38</div>
<div class="n r" style="left:795px;top:632.5px;width:48px">23</div>
<div class="n r" style="left:846px;top:632.5px;width:48px">31</div>
<div class="n r" style="left:897px;top:632.5px;width:48px">17</div>
<div class="n r" style="left:948px;top:632.5px;width:48px">17</div>
<div class="n c" style="left:999px;top:632.5px;width:91px">0.69</div>
<div class="t l" style="left:7.2px;top:652.5px;width:93.8px;transform:scaleX(0.996)">Minnesota</div>
<div class="t r" style="left:102px;top:652.5px;width:48.4px">19005</div>
<div class="t r" style="left:153px;top:652.5px;width:52.4px">805</div>
<div class="t r" style="left:208px;top:652.5px;width:48.4px">851</div>
<div class="t r" style="left:259px;top:652.5px;width:48.4px">33</div>
<div class="t r" style="left:310px;top:652.5px;width:48.4px">5458</div>
<div class="n r" style="left:361px;top:652.5px;width:48px">4,894</div>
<div class="n r" style="left:412px;top:652.5px;width:50px">0.174</div>
<div class="n r" style="left:465px;top:652.5px;width:50px">0.139</div>
<div class="n r" style="left:518px;top:652.5px;width:50px">0.135</div>
<div class="n r" style="left:571px;top:652.5px;width:50px">0.114</div>
<div class="n r" style="left:624px;top:652.5px;width:50px">0.164</div>
<div class="n r" style="left:677px;top:652.5px;width:56px">0.145</div>
<div class="n r" style="left:744px;top:652.5px;width:48px">54</div>
<div class="n r" style="left:795px;top:652.5px;width:48px">54</div>
<div class="n r" style="left:846px;top:652.5px;width:48px">52</div>
<div class="n r" style="left:897px;top:652.5px;width:48px">48</div>
<div class="n r" style="left:948px;top:652.5px;width:48px">52</div>
<div class="n c" style="left:999px;top:652.5px;width:91px">1.13</div>
<div class="t l" style="left:7.2px;top:672.5px;width:93.8px;transform:scaleX(0.954)">Mississippi</div>
<div class="t r" style="left:102px;top:672.5px;width:48.4px">12,624</div>
<div class="t r" style="left:153px;top:672.5px;width:52.4px">402</div>
<div class="t r" style="left:208px;top:672.5px;width:48.4px">596</div>
<div class="t r" style="left:259px;top:672.5px;width:48.4px">16</div>
<div class="t r" style="left:310px;top:672.5px;width:48.4px">4,347</div>
<div class="n r" style="left:361px;top:672.5px;width:48px">3,961</div>
<div class="n r" style="left:412px;top:672.5px;width:50px">0.030</div>
<div class="n r" style="left:465px;top:672.5px;width:50px">0.059</div>
<div class="n r" style="left:518px;top:672.5px;width:50px">0.054</div>
<div class="n r" style="left:571px;top:672.5px;width:50px">0.069</div>
<div class="n r" style="left:624px;top:672.5px;width:50px">0.101</div>
<div class="n r" style="left:677px;top:672.5px;width:56px">0.063</div>
<div class="n r" style="left:744px;top:672.5px;width:48px">30</div>
<div class="n r" style="left:795px;top:672.5px;width:48px">48</div>
<div class="n r" style="left:846px;top:672.5px;width:48px">41</div>
<div class="n r" style="left:897px;top:672.5px;width:48px">39</div>
<div class="n r" style="left:948px;top:672.5px;width:48px">48</div>
<div class="n c" style="left:999px;top:672.5px;width:91px">1.62</div>
<div class="t l" style="left:7.2px;top:692.5px;width:93.8px;transform:scaleX(0.981)">Missouri</div>
<div class="t r" style="left:102px;top:692.5px;width:48.4px">11,852</div>
<div class="t r" style="left:153px;top:692.5px;width:52.4px">197</div>
<div class="t r" style="left:208px;top:692.5px;width:48.4px">681</div>
<div class="t r" style="left:259px;top:692.5px;width:48.4px">9</div>
<div class="t r" style="left:310px;top:692.5px;width:48.4px">8,206</div>
<div class="n r" style="left:361px;top:692.5px;width:48px">8,018</div>
<div class="n r" style="left:412px;top:692.5px;width:50px">0.019</div>
<div class="n r" style="left:465px;top:692.5px;width:50px">0.020</div>
<div class="n r" style="left:518px;top:692.5px;width:50px">0.019</div>
<div class="n r" style="left:571px;top:692.5px;width:50px">0.018</div>
<div class="n r" style="left:624px;top:692.5px;width:50px">0.025</div>
<div class="n r" style="left:677px;top:692.5px;width:56px">0.020</div>
<div class="n r" style="left:744px;top:692.5px;width:48px">13</div>
<div class="n r" style="left:795px;top:692.5px;width:48px">18</div>
<div class="n r" style="left:846px;top:692.5px;width:48px">10</div>
<div class="n r" style="left:897px;top:692.5px;width:48px">8</div>
<div class="n r" style="left:948px;top:692.5px;width:48px">23</div>
<div class="n c" style="left:999px;top:692.5px;width:91px">1.22</div>
<div class="t l" style="left:7.2px;top:712.5px;width:93.8px;transform:scaleX(1.002)">Montana</div>
<div class="t r" style="left:102px;top:712.5px;width:48.4px">479</div>
<div class="t r" style="left:208px;top:712.5px;width:48.4px">16</div>
<div class="t r" style="left:310px;top:712.5px;width:48.4px">22</div>
<div class="n r" style="left:361px;top:712.5px;width:48px">23</div>
<div class="n r" style="left:412px;top:712.5px;width:50px">0.095</div>
<div class="n r" style="left:465px;top:712.5px;width:50px">0.050</div>
<div class="n r" style="left:518px;top:712.5px;width:50px">0.389</div>
<div class="n r" style="left:571px;top:712.5px;width:50px">0.045</div>
<div class="n r" style="left:624px;top:712.5px;width:50px">0.000</div>
<div class="n r" style="left:677px;top:712.5px;width:56px">0.116</div>
<div class="n r" style="left:744px;top:712.5px;width:48px">53</div>
<div class="n r" style="left:795px;top:712.5px;width:48px">43</div>
<div class="n r" style="left:846px;top:712.5px;width:48px">54</div>
<div class="n r" style="left:897px;top:712.5px;width:48px">32</div>
<div class="n r" style="left:948px;top:712.5px;width:48px">2</div>
<div class="n c" style="left:999px;top:712.5px;width:91px">0.00</div>
<div class="t l" style="left:7.2px;top:732.5px;width:93.8px;transform:scaleX(0.947)">Nebraska</div>
<div class="t r" style="left:102px;top:732.5px;width:48.4px">11662</div>
<div class="t r" style="left:153px;top:732.5px;width:52.4px">237</div>
<div class="t r" style="left:208px;top:732.5px;width:48.4px">147</div>
<div class="t r" style="left:259px;top:732.5px;width:48.4px">4</div>
<div class="t r" style="left:310px;top:732.5px;width:48.4px">11166</div>
<div class="n r" style="left:361px;top:732.5px;width:48px">10,933</div>
<div class="n r" style="left:412px;top:732.5px;width:50px">0.028</div>
<div class="n r" style="left:465px;top:732.5px;width:50px">0.022</div>
<div class="n r" style="left:518px;top:732.5px;width:50px">0.027</div>
<div class="n r" style="left:571px;top:732.5px;width:50px">0.028</div>
<div class="n r" style="left:624px;top:732.5px;width:50px">0.022</div>
<div class="n r" style="left:677px;top:732.5px;width:56px">0.025</div>
<div class="n r" style="left:744px;top:732.5px;width:48px">26</div>
<div class="n r" style="left:795px;top:732.5px;width:48px">21</div>
<div class="n r" style="left:846px;top:732.5px;width:48px">22</div>
<div class="n r" style="left:897px;top:732.5px;width:48px">21</div>
<div class="n r" style="left:948px;top:732.5px;width:48px">21</div>
<div class="n c" style="left:999px;top:732.5px;width:91px">0.86</div>
<div class="t l" style="left:7.2px;top:752.5px;width:93.8px;transform:scaleX(0.955)">Nevada</div>
<div class="t r" style="left:102px;top:752.5px;width:48.4px">7,401</div>
<div class="t r" style="left:153px;top:752.5px;width:52.4px">148</div>
<div class="t r" style="left:208px;top:752.5px;width:48.4px">387</div>
<div class="t r" style="left:259px;top:752.5px;width:48.4px">6</div>
<div class="t r" style="left:310px;top:752.5px;width:48.4px">1,075</div>
<div class="n r" style="left:361px;top:752.5px;width:48px">1,005</div>
<div class="n r" style="left:412px;top:752.5px;width:50px">0.071</div>
<div class="n r" style="left:465px;top:752.5px;width:50px">0.051</div>
<div class="n r" style="left:518px;top:752.5px;width:50px">0.000</div>
<div class="n r" style="left:571px;top:752.5px;width:50px">0.000</div>
<div class="n r" style="left:624px;top:752.5px;width:50px">0.000</div>
<div class="n r" style="left:677px;top:752.5px;width:56px">0.025</div>
<div class="n r" style="left:744px;top:752.5px;width:48px">36</div>
<div class="n r" style="left:795px;top:752.5px;width:48px">31</div>
<div class="n r" style="left:846px;top:752.5px;width:48px">49</div>
<div class="n r" style="left:897px;top:752.5px;width:48px">35</div>
<div class="n r" style="left:948px;top:752.5px;width:48px">40</div>
<div class="n c" style="left:999px;top:752.5px;width:91px">1.01</div>
</div></body></html>
